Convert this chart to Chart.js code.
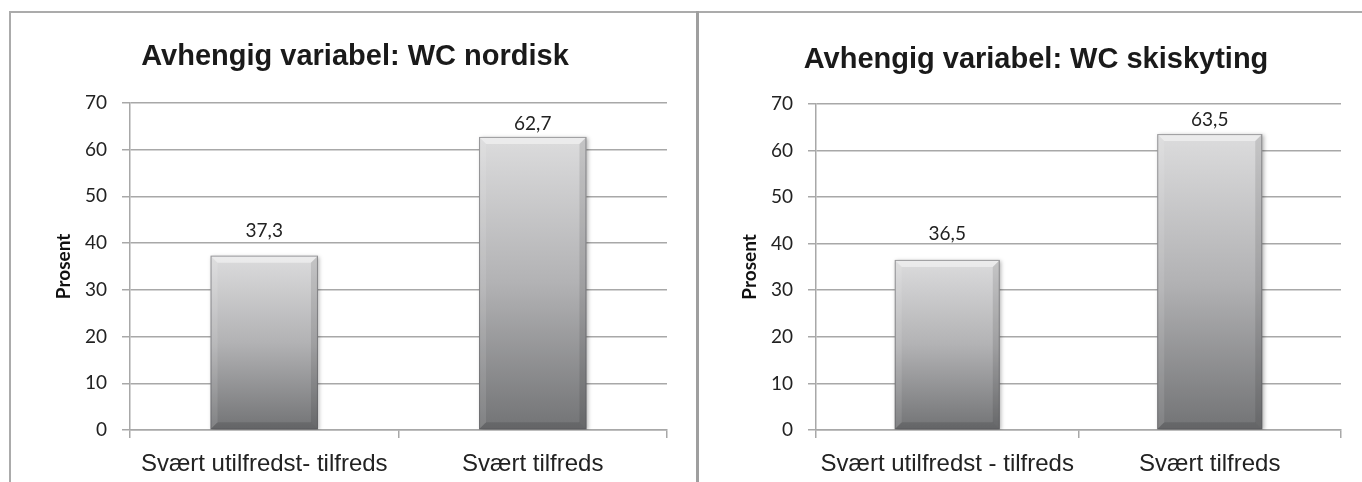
<!DOCTYPE html>
<html>
<head>
<meta charset="utf-8">
<script src="https://cdn.jsdelivr.net/npm/chart.js@4.4.1/dist/chart.umd.min.js"></script>
<style>
  html, body { margin: 0; padding: 0; background: #fff; width: 1362px; height: 482px; overflow: hidden; }
  .pane { position: absolute; top: 12px; height: 470px; }
  #p1 { left: 10px; width: 687px; }
  #p2 { left: 697px; width: 665px; }
  .rule { position: absolute; background: #ababab; }
  #rTop { left: 9px; top: 11px; width: 1353px; height: 2px; }
  #rLeft { left: 9px; top: 11px; width: 2px; height: 471px; }
  #rMid { left: 696px; top: 11px; width: 3px; height: 471px; background: #9f9f9f; }
</style>
</head>
<body>
<div class="pane" id="p1"><canvas id="chartNordisk"></canvas></div>
<div class="pane" id="p2"><canvas id="chartSkiskyting"></canvas></div>
<div class="rule" id="rTop"></div>
<div class="rule" id="rLeft"></div>
<div class="rule" id="rMid"></div>

<script>
// ---- data ----
const titleNordisk = 'Avhengig variabel: WC nordisk';
const categoriesNordisk = ['Svært utilfredst- tilfreds', 'Svært tilfreds'];
const valuesNordisk = [37.3, 62.7];

const titleSkiskyting = 'Avhengig variabel: WC skiskyting';
const categoriesSkiskyting = ['Svært utilfredst - tilfreds', 'Svært tilfreds'];
const valuesSkiskyting = [36.5, 63.5];

const yAxisTitle = 'Prosent';
const yMin = 0;
const yMax = 70;
const yStep = 10;

// ---- styling helpers ----
const GRID = '#a8a8a8';
const TEXT = '#222222';
const NUM_FONT = 'Lato, "Open Sans", sans-serif';
const SANS = '"Liberation Sans", Arial, sans-serif';

const fmt = v => v.toFixed(1).replace('.', ',');

// vertical grey gradient running from the bar top down to the baseline
function barGradient(ctx) {
  const chart = ctx.chart;
  if (!chart.chartArea || ctx.type !== 'data') return '#a0a0a0';
  const y = chart.scales.y;
  const top = y.getPixelForValue(ctx.raw);
  const bottom = y.getPixelForValue(0);
  const g = chart.ctx.createLinearGradient(0, top, 0, bottom);
  g.addColorStop(0, '#dcdcdd');
  g.addColorStop(0.5, '#b2b2b4');
  g.addColorStop(1, '#727375');
  return g;
}

// soft shadow under bars, bevelled faces, and value labels
const barDecor = {
  id: 'barDecor',
  beforeDatasetDraw(chart) {
    const c = chart.ctx;
    c.save();
    c.shadowColor = 'rgba(0,0,0,0.30)';
    c.shadowBlur = 4;
    c.shadowOffsetX = 1.5;
    c.shadowOffsetY = 1;
  },
  afterDatasetDraw(chart) {
    chart.ctx.restore();
  },
  afterDatasetsDraw(chart, args, opts) {
    const c = chart.ctx;
    const meta = chart.getDatasetMeta(0);
    const data = chart.data.datasets[0].data;
    const gaps = opts.labelGaps || [];
    meta.data.forEach((bar, i) => {
      const { x, y, base, width } = bar.getProps(['x', 'y', 'base', 'width'], true);
      const l = x - width / 2, r = x + width / 2, t = y, b = base;
      const d = 7;
      const face = (pts, col) => {
        c.beginPath();
        c.moveTo(pts[0][0], pts[0][1]);
        for (let k = 1; k < pts.length; k++) c.lineTo(pts[k][0], pts[k][1]);
        c.closePath();
        c.fillStyle = col;
        c.fill();
      };
      c.save();
      face([[l, t], [r, t], [r - d, t + d], [l + d, t + d]], 'rgba(255,255,255,0.45)');
      face([[l, t], [l + d, t + d], [l + d, b - d], [l, b]], 'rgba(255,255,255,0.10)');
      face([[r, t], [r - d, t + d], [r - d, b - d], [r, b]], 'rgba(0,0,0,0.10)');
      face([[l, b], [l + d, b - d], [r - d, b - d], [r, b]], 'rgba(0,0,0,0.12)');
      c.strokeStyle = 'rgba(90,90,92,0.55)';
      c.lineWidth = 1;
      c.strokeRect(l + 0.5, t + 0.5, width - 1, b - t - 1);
      // value label
      c.fillStyle = TEXT;
      c.font = '19px ' + NUM_FONT;
      c.textAlign = 'center';
      c.textBaseline = 'alphabetic';
      c.fillText(fmt(data[i]), x, t - (gaps[i] ?? 7));
      c.restore();
    });
  }
};

function makeChart(id, title, categories, values, geo) {
  return new Chart(document.getElementById(id), {
    type: 'bar',
    data: {
      labels: categories,
      datasets: [{
        data: values,
        backgroundColor: barGradient,
        borderWidth: 0,
        categoryPercentage: 1,
        barPercentage: 0.4
      }]
    },
    plugins: [barDecor],
    options: {
      responsive: true,
      maintainAspectRatio: false,
      animation: false,
      layout: { padding: { left: geo.padLeft, right: geo.padRight, top: 0, bottom: 0 } },
      plugins: {
        legend: { display: false },
        tooltip: { enabled: false },
        barDecor: { labelGaps: geo.labelGaps },
        title: {
          display: true,
          text: title,
          color: '#1a1a1a',
          font: { family: SANS, size: 29, weight: 'bold' },
          padding: { top: geo.titleTop, bottom: geo.titleBottom }
        }
      },
      scales: {
        x: {
          offset: true,
          grid: { display: true, offset: true, drawOnChartArea: false, drawTicks: true, tickLength: 8, color: GRID, lineWidth: 1.5 },
          border: { display: true, color: GRID, width: 1.5 },
          ticks: { color: TEXT, font: { family: SANS, size: 24 }, padding: 12, maxRotation: 0, autoSkip: false },
          afterFit(scale) { scale.height = 52; }
        },
        y: {
          min: yMin,
          max: yMax,
          grid: { color: GRID, lineWidth: 1.5, tickLength: 8, drawTicks: true },
          border: { display: true, color: GRID, width: 1.5 },
          ticks: { stepSize: yStep, color: TEXT, font: { family: NUM_FONT, size: 19 }, padding: 15 },
          title: {
            display: true,
            text: yAxisTitle,
            color: '#111',
            font: { family: NUM_FONT, size: 19, weight: 'bold' },
            padding: { top: geo.yTitlePad, bottom: 0 }
          },
          afterFit(scale) { scale.width = geo.yWidth; }
        }
      }
    }
  });
}

makeChart('chartNordisk', titleNordisk, categoriesNordisk, valuesNordisk,
  { padLeft: 33, padRight: 30, yWidth: 87, yTitlePad: 9, titleTop: 28, titleBottom: 28, labelGaps: [19, 7] });
makeChart('chartSkiskyting', titleSkiskyting, categoriesSkiskyting, valuesSkiskyting,
  { padLeft: 34, padRight: 21, yWidth: 85, yTitlePad: 7, titleTop: 31, titleBottom: 26, labelGaps: [20, 8] });
</script>
</body>
</html>
